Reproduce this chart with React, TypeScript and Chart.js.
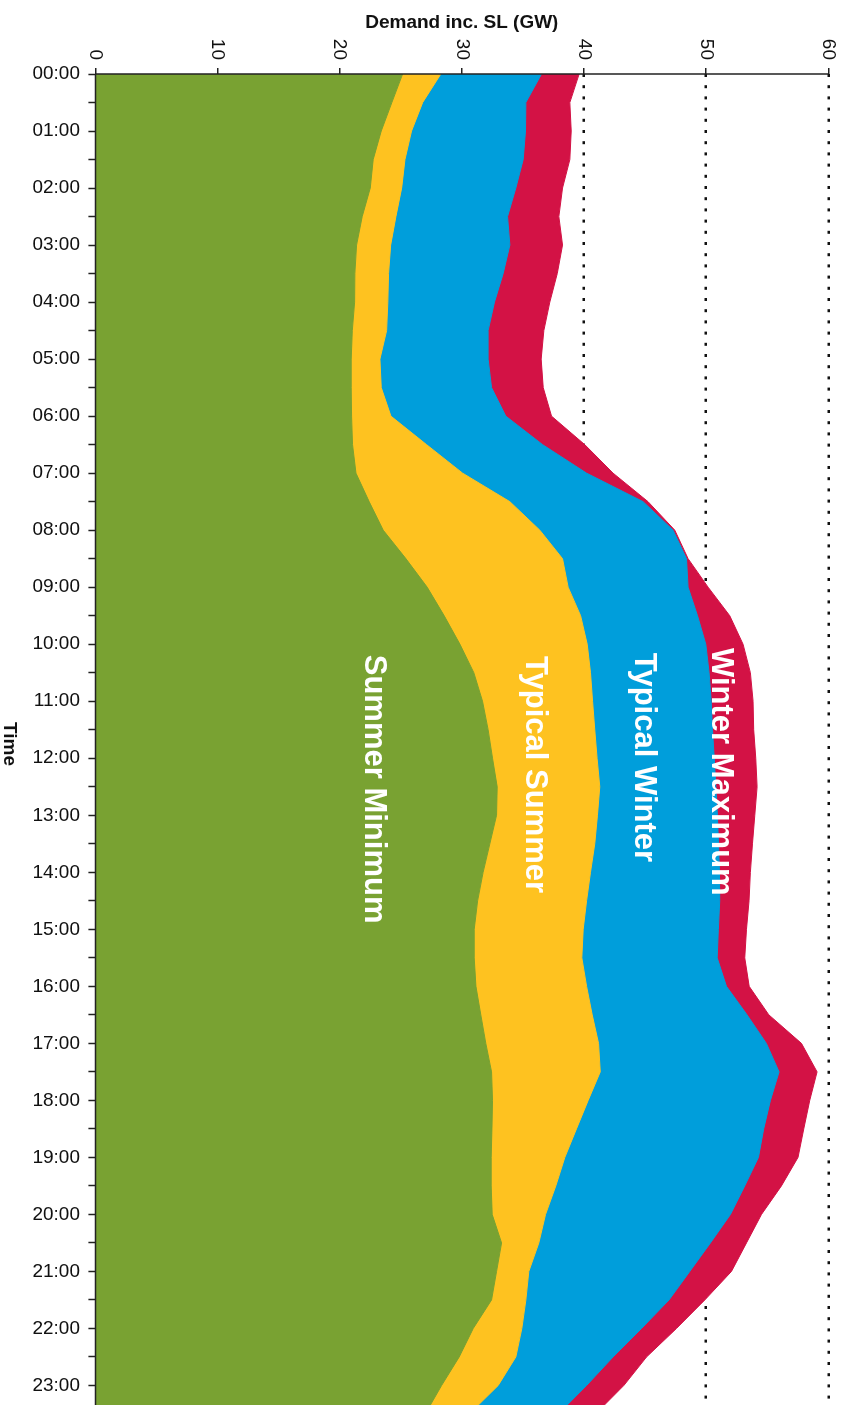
import React, { useEffect, useRef } from 'react';
import { Chart, registerables } from 'chart.js';

Chart.register(...registerables);

// Half-hourly categories (00:00 .. 23:30)
const TIMES = [
  '00:00', '00:30', '01:00', '01:30', '02:00', '02:30', '03:00', '03:30',
  '04:00', '04:30', '05:00', '05:30', '06:00', '06:30', '07:00', '07:30',
  '08:00', '08:30', '09:00', '09:30', '10:00', '10:30', '11:00', '11:30',
  '12:00', '12:30', '13:00', '13:30', '14:00', '14:30', '15:00', '15:30',
  '16:00', '16:30', '17:00', '17:30', '18:00', '18:30', '19:00', '19:30',
  '20:00', '20:30', '21:00', '21:30', '22:00', '22:30', '23:00', '23:30',
];

// Demand inc. SL (GW)
const SUMMER_MINIMUM = [
  25.15, 24.27, 23.4, 22.74, 22.5, 21.84, 21.38, 21.24,
  21.22, 21.03, 20.94, 20.94, 20.97, 21.05, 21.33, 22.41,
  23.56, 25.42, 27.16, 28.55, 29.84, 30.98, 31.69, 32.15,
  32.51, 32.89, 32.84, 32.29, 31.74, 31.29, 31.01, 31.01,
  31.15, 31.55, 31.96, 32.43, 32.51, 32.46, 32.4, 32.4,
  32.48, 33.25, 32.84, 32.43, 30.93, 29.78, 28.34, 27.0,
];
const TYPICAL_SUMMER = [
  28.28, 26.79, 25.88, 25.34, 25.07, 24.6, 24.17, 24.0,
  23.94, 23.84, 23.29, 23.4, 24.19, 27.11, 30.06, 33.93,
  36.38, 38.24, 38.7, 39.72, 40.26, 40.53, 40.7, 40.88,
  41.07, 41.29, 41.1, 40.88, 40.53, 40.21, 39.93, 39.82,
  40.21, 40.67, 41.19, 41.33, 40.34, 39.38, 38.43, 37.69,
  36.85, 36.3, 35.48, 35.24, 34.91, 34.42, 32.97, 30.6,
];
const TYPICAL_WINTER = [
  36.52, 35.24, 35.21, 35.02, 34.42, 33.74, 33.93, 33.38,
  32.67, 32.15, 32.15, 32.43, 33.6, 36.61, 40.21, 44.84,
  47.29, 48.39, 48.52, 49.29, 49.97, 50.24, 50.41, 50.52,
  50.66, 50.79, 50.92, 51.01, 51.09, 51.11, 51.0, 50.9,
  51.66, 53.35, 54.93, 55.97, 55.26, 54.71, 54.28, 53.16,
  51.99, 50.35, 48.66, 46.96, 44.71, 42.38, 40.21, 37.89,
];
const WINTER_MAXIMUM = [
  39.6, 38.84, 38.95, 38.84, 38.24, 37.94, 38.24, 37.81,
  37.2, 36.71, 36.49, 36.66, 37.34, 40.06, 42.38, 45.24,
  47.43, 48.52, 50.16, 51.93, 53.02, 53.62, 53.84, 53.89,
  54.06, 54.17, 53.98, 53.79, 53.62, 53.51, 53.3, 53.16,
  53.52, 55.13, 57.8, 59.08, 58.48, 57.99, 57.52, 56.16,
  54.53, 53.3, 52.07, 49.89, 47.57, 45.12, 43.26, 40.94,
];

const DEMAND_TICKS = [0, 10, 20, 30, 40, 50, 60];

const SERIES_NAMES = ['Summer Minimum', 'Typical Summer', 'Typical Winter', 'Winter Maximum'];
const SERIES_COLORS = ['#79A232', '#FEC220', '#009EDB', '#D31245'];
const SERIES_DATA = [SUMMER_MINIMUM, TYPICAL_SUMMER, TYPICAL_WINTER, WINTER_MAXIMUM];

// In-chart labels: start at a (fractional) time index, baseline at a demand value
const LABEL_INDEX = [20.37, 20.41, 20.3, 20.13];
const LABEL_VALUE = [22.06, 35.24, 44.15, 50.46];

const FONT = '"Liberation Sans", Arial, Helvetica, sans-serif';
const PAD_RIGHT = 32;
const PLOT_RIGHT = 1414;
const W = PLOT_RIGHT + PAD_RIGHT; // unrotated width (becomes page height, clipped)
const H = 848; // unrotated height (becomes page width)

const axisLinesPlugin = {
  id: 'axisLines',
  afterDatasetsDraw(chart: any) {
    const { ctx, chartArea } = chart;
    const { left, top, bottom, right } = chartArea;
    ctx.save();
    ctx.strokeStyle = '#222';
    ctx.lineWidth = 1.5;
    ctx.beginPath();
    ctx.moveTo(left, top);
    ctx.lineTo(left, bottom);
    ctx.moveTo(left, bottom);
    ctx.lineTo(right + 10, bottom);
    ctx.stroke();
    ctx.restore();
  },
};

const seriesLabelPlugin = {
  id: 'seriesLabels',
  afterDatasetsDraw(chart: any) {
    const { ctx } = chart;
    const xs = chart.scales.x;
    const ys = chart.scales.y;
    ctx.save();
    ctx.fillStyle = '#ffffff';
    ctx.font = `bold 31px ${FONT}`;
    ctx.textAlign = 'left';
    ctx.textBaseline = 'alphabetic';
    SERIES_NAMES.forEach((name, i) => {
      ctx.fillText(name, xs.getPixelForValue(LABEL_INDEX[i]), ys.getPixelForValue(LABEL_VALUE[i]));
    });
    ctx.restore();
  },
};

export default function App() {
  const ref = useRef<HTMLCanvasElement>(null);

  useEffect(() => {
    if (!ref.current) return;
    const chart = new Chart(ref.current, {
      type: 'line',
      data: {
        labels: TIMES,
        datasets: SERIES_DATA.map((d, i) => ({
          label: SERIES_NAMES[i],
          data: d,
          fill: 'origin',
          backgroundColor: SERIES_COLORS[i],
          borderColor: SERIES_COLORS[i],
          borderWidth: 1,
          pointRadius: 0,
          tension: 0,
        })),
      },
      options: {
        responsive: false,
        animation: false,
        devicePixelRatio: 1,
        layout: { padding: { top: 19.7, right: PAD_RIGHT, left: 0, bottom: 0 } },
        plugins: {
          legend: { display: false },
          tooltip: { enabled: false },
        },
        scales: {
          x: {
            type: 'category',
            offset: false,
            grid: {
              display: true,
              drawOnChartArea: false,
              drawTicks: true,
              tickLength: 7,
              tickColor: '#222',
              tickWidth: 1.5,
              color: '#222',
            },
            border: { display: false },
            ticks: {
              autoSkip: false,
              minRotation: 90,
              maxRotation: 90,
              padding: 8.4,
              color: '#111',
              font: { family: FONT, size: 19 },
              callback: (_v: any, i: number) => (i % 2 === 0 ? TIMES[i] : ''),
            },
            title: {
              display: true,
              text: 'Time',
              color: '#111',
              font: { family: FONT, size: 19, weight: 'bold', lineHeight: 0.93 },
              padding: { top: 0, bottom: 0 },
            },
            afterFit: (s: any) => {
              s.height = 95.4;
            },
          },
          y: {
            min: 0,
            max: 60,
            afterBuildTicks: (s: any) => {
              s.ticks = DEMAND_TICKS.map((v) => ({ value: v }));
            },
            grid: {
              display: true,
              drawOnChartArea: true,
              drawTicks: true,
              color: (c: any) => (c.tick && c.tick.value === 0 ? 'rgba(0,0,0,0)' : '#111'),
              lineWidth: 2.5,
              tickLength: 6,
              tickColor: '#222',
              tickWidth: 1.5,
              tickBorderDash: [],
              borderDash: [3, 8.2],
            } as any,
            border: { display: false, dash: [3, 8.2] },
            ticks: {
              padding: 8,
              color: '#111',
              font: { family: FONT, size: 19 },
            },
            title: {
              display: true,
              text: 'Demand inc. SL (GW)',
              color: '#111',
              font: { family: FONT, size: 19, weight: 'bold', lineHeight: 1.2 },
              padding: { top: 11.3, bottom: 0 },
            },
            afterFit: (s: any) => {
              s.width = 74;
            },
          },
        },
      } as any,
      plugins: [axisLinesPlugin, seriesLabelPlugin],
    });
    return () => chart.destroy();
  }, []);

  return (
    <div
      style={{
        position: 'absolute',
        left: 0,
        top: 0,
        width: 848,
        height: 1405,
        overflow: 'hidden',
        background: '#ffffff',
      }}
    >
      <div
        style={{
          position: 'absolute',
          left: 0,
          top: 0,
          width: W,
          height: H,
          transformOrigin: '0 0',
          transform: 'translate(848px, 0px) rotate(90deg)',
        }}
      >
        <canvas ref={ref} width={W} height={H} style={{ display: 'block', width: W, height: H }} />
      </div>
    </div>
  );
}
